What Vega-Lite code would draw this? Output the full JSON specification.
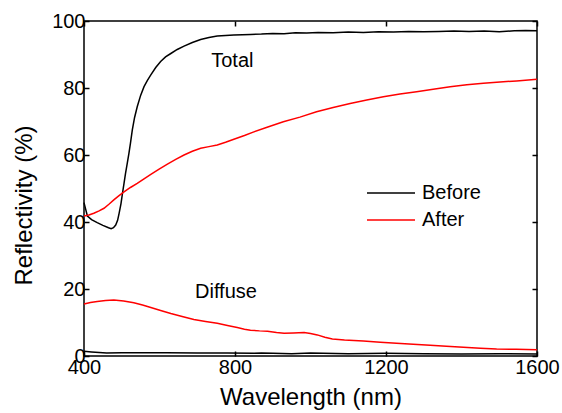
{
  "$schema": "https://vega.github.io/schema/vega-lite/v6.json",
  "width": 453,
  "height": 335,
  "autosize": {"type": "none"},
  "padding": {"left": 84, "top": 21, "right": 25, "bottom": 57},
  "config": {
    "font": "Liberation Sans",
    "view": {"stroke": "#000000", "strokeWidth": 1.5},
    "axis": {
      "grid": false,
      "domain": false,
      "tickColor": "#000000",
      "tickWidth": 1.5,
      "tickSize": -5,
      "labelFont": "Liberation Sans",
      "labelFontSize": 20,
      "labelColor": "#000000",
      "titleFont": "Liberation Sans",
      "titleFontSize": 24,
      "titleFontWeight": "normal",
      "titleColor": "#000000"
    }
  },
  "datasets": {
    "curves": [
      {"wavelength": 400, "reflectivity": 45.8, "sample": "Before", "kind": "Total"},
      {"wavelength": 404, "reflectivity": 44.0, "sample": "Before", "kind": "Total"},
      {"wavelength": 409, "reflectivity": 41.8, "sample": "Before", "kind": "Total"},
      {"wavelength": 420, "reflectivity": 40.7, "sample": "Before", "kind": "Total"},
      {"wavelength": 435, "reflectivity": 39.8, "sample": "Before", "kind": "Total"},
      {"wavelength": 450, "reflectivity": 39.0, "sample": "Before", "kind": "Total"},
      {"wavelength": 465, "reflectivity": 38.3, "sample": "Before", "kind": "Total"},
      {"wavelength": 472, "reflectivity": 38.0, "sample": "Before", "kind": "Total"},
      {"wavelength": 478, "reflectivity": 38.3, "sample": "Before", "kind": "Total"},
      {"wavelength": 484, "reflectivity": 39.1, "sample": "Before", "kind": "Total"},
      {"wavelength": 489, "reflectivity": 40.5, "sample": "Before", "kind": "Total"},
      {"wavelength": 493, "reflectivity": 42.6, "sample": "Before", "kind": "Total"},
      {"wavelength": 498, "reflectivity": 45.5, "sample": "Before", "kind": "Total"},
      {"wavelength": 502, "reflectivity": 48.6, "sample": "Before", "kind": "Total"},
      {"wavelength": 506, "reflectivity": 51.5, "sample": "Before", "kind": "Total"},
      {"wavelength": 510, "reflectivity": 54.5, "sample": "Before", "kind": "Total"},
      {"wavelength": 515, "reflectivity": 57.8, "sample": "Before", "kind": "Total"},
      {"wavelength": 519, "reflectivity": 60.5, "sample": "Before", "kind": "Total"},
      {"wavelength": 523, "reflectivity": 63.5, "sample": "Before", "kind": "Total"},
      {"wavelength": 528, "reflectivity": 67.5, "sample": "Before", "kind": "Total"},
      {"wavelength": 534, "reflectivity": 71.2, "sample": "Before", "kind": "Total"},
      {"wavelength": 541, "reflectivity": 74.4, "sample": "Before", "kind": "Total"},
      {"wavelength": 550, "reflectivity": 77.8, "sample": "Before", "kind": "Total"},
      {"wavelength": 559, "reflectivity": 80.4, "sample": "Before", "kind": "Total"},
      {"wavelength": 568, "reflectivity": 82.3, "sample": "Before", "kind": "Total"},
      {"wavelength": 577, "reflectivity": 83.9, "sample": "Before", "kind": "Total"},
      {"wavelength": 590, "reflectivity": 86.1, "sample": "Before", "kind": "Total"},
      {"wavelength": 603, "reflectivity": 87.9, "sample": "Before", "kind": "Total"},
      {"wavelength": 616, "reflectivity": 89.3, "sample": "Before", "kind": "Total"},
      {"wavelength": 630, "reflectivity": 90.3, "sample": "Before", "kind": "Total"},
      {"wavelength": 647, "reflectivity": 91.5, "sample": "Before", "kind": "Total"},
      {"wavelength": 665, "reflectivity": 92.5, "sample": "Before", "kind": "Total"},
      {"wavelength": 687, "reflectivity": 93.6, "sample": "Before", "kind": "Total"},
      {"wavelength": 709, "reflectivity": 94.5, "sample": "Before", "kind": "Total"},
      {"wavelength": 731, "reflectivity": 95.1, "sample": "Before", "kind": "Total"},
      {"wavelength": 753, "reflectivity": 95.5, "sample": "Before", "kind": "Total"},
      {"wavelength": 775, "reflectivity": 95.7, "sample": "Before", "kind": "Total"},
      {"wavelength": 797, "reflectivity": 95.8, "sample": "Before", "kind": "Total"},
      {"wavelength": 820, "reflectivity": 95.9, "sample": "Before", "kind": "Total"},
      {"wavelength": 841, "reflectivity": 96.0, "sample": "Before", "kind": "Total"},
      {"wavelength": 870, "reflectivity": 96.1, "sample": "Before", "kind": "Total"},
      {"wavelength": 900, "reflectivity": 96.3, "sample": "Before", "kind": "Total"},
      {"wavelength": 930, "reflectivity": 96.2, "sample": "Before", "kind": "Total"},
      {"wavelength": 960, "reflectivity": 96.5, "sample": "Before", "kind": "Total"},
      {"wavelength": 990, "reflectivity": 96.4, "sample": "Before", "kind": "Total"},
      {"wavelength": 1020, "reflectivity": 96.6, "sample": "Before", "kind": "Total"},
      {"wavelength": 1060, "reflectivity": 96.5, "sample": "Before", "kind": "Total"},
      {"wavelength": 1100, "reflectivity": 96.7, "sample": "Before", "kind": "Total"},
      {"wavelength": 1140, "reflectivity": 96.6, "sample": "Before", "kind": "Total"},
      {"wavelength": 1180, "reflectivity": 96.8, "sample": "Before", "kind": "Total"},
      {"wavelength": 1220, "reflectivity": 96.7, "sample": "Before", "kind": "Total"},
      {"wavelength": 1260, "reflectivity": 96.9, "sample": "Before", "kind": "Total"},
      {"wavelength": 1300, "reflectivity": 96.8, "sample": "Before", "kind": "Total"},
      {"wavelength": 1340, "reflectivity": 96.9, "sample": "Before", "kind": "Total"},
      {"wavelength": 1380, "reflectivity": 97.0, "sample": "Before", "kind": "Total"},
      {"wavelength": 1420, "reflectivity": 96.9, "sample": "Before", "kind": "Total"},
      {"wavelength": 1460, "reflectivity": 97.0, "sample": "Before", "kind": "Total"},
      {"wavelength": 1500, "reflectivity": 96.8, "sample": "Before", "kind": "Total"},
      {"wavelength": 1540, "reflectivity": 97.1, "sample": "Before", "kind": "Total"},
      {"wavelength": 1570, "reflectivity": 97.2, "sample": "Before", "kind": "Total"},
      {"wavelength": 1600, "reflectivity": 97.1, "sample": "Before", "kind": "Total"},

      {"wavelength": 400, "reflectivity": 41.8, "sample": "After", "kind": "Total"},
      {"wavelength": 413, "reflectivity": 42.1, "sample": "After", "kind": "Total"},
      {"wavelength": 426, "reflectivity": 42.6, "sample": "After", "kind": "Total"},
      {"wavelength": 440, "reflectivity": 43.3, "sample": "After", "kind": "Total"},
      {"wavelength": 453, "reflectivity": 44.1, "sample": "After", "kind": "Total"},
      {"wavelength": 466, "reflectivity": 45.3, "sample": "After", "kind": "Total"},
      {"wavelength": 479, "reflectivity": 46.6, "sample": "After", "kind": "Total"},
      {"wavelength": 492, "reflectivity": 47.8, "sample": "After", "kind": "Total"},
      {"wavelength": 506, "reflectivity": 49.0, "sample": "After", "kind": "Total"},
      {"wavelength": 523, "reflectivity": 50.3, "sample": "After", "kind": "Total"},
      {"wavelength": 541, "reflectivity": 51.5, "sample": "After", "kind": "Total"},
      {"wavelength": 559, "reflectivity": 52.9, "sample": "After", "kind": "Total"},
      {"wavelength": 577, "reflectivity": 54.2, "sample": "After", "kind": "Total"},
      {"wavelength": 599, "reflectivity": 55.8, "sample": "After", "kind": "Total"},
      {"wavelength": 621, "reflectivity": 57.3, "sample": "After", "kind": "Total"},
      {"wavelength": 643, "reflectivity": 58.7, "sample": "After", "kind": "Total"},
      {"wavelength": 665, "reflectivity": 60.0, "sample": "After", "kind": "Total"},
      {"wavelength": 687, "reflectivity": 61.1, "sample": "After", "kind": "Total"},
      {"wavelength": 709, "reflectivity": 62.0, "sample": "After", "kind": "Total"},
      {"wavelength": 731, "reflectivity": 62.5, "sample": "After", "kind": "Total"},
      {"wavelength": 753, "reflectivity": 63.0, "sample": "After", "kind": "Total"},
      {"wavelength": 775, "reflectivity": 63.8, "sample": "After", "kind": "Total"},
      {"wavelength": 797, "reflectivity": 64.7, "sample": "After", "kind": "Total"},
      {"wavelength": 825, "reflectivity": 65.8, "sample": "After", "kind": "Total"},
      {"wavelength": 850, "reflectivity": 66.9, "sample": "After", "kind": "Total"},
      {"wavelength": 885, "reflectivity": 68.3, "sample": "After", "kind": "Total"},
      {"wavelength": 928, "reflectivity": 69.9, "sample": "After", "kind": "Total"},
      {"wavelength": 972, "reflectivity": 71.3, "sample": "After", "kind": "Total"},
      {"wavelength": 1016, "reflectivity": 72.9, "sample": "After", "kind": "Total"},
      {"wavelength": 1060, "reflectivity": 74.2, "sample": "After", "kind": "Total"},
      {"wavelength": 1105, "reflectivity": 75.4, "sample": "After", "kind": "Total"},
      {"wavelength": 1149, "reflectivity": 76.4, "sample": "After", "kind": "Total"},
      {"wavelength": 1193, "reflectivity": 77.4, "sample": "After", "kind": "Total"},
      {"wavelength": 1237, "reflectivity": 78.2, "sample": "After", "kind": "Total"},
      {"wavelength": 1281, "reflectivity": 78.9, "sample": "After", "kind": "Total"},
      {"wavelength": 1325, "reflectivity": 79.6, "sample": "After", "kind": "Total"},
      {"wavelength": 1370, "reflectivity": 80.4, "sample": "After", "kind": "Total"},
      {"wavelength": 1414, "reflectivity": 81.0, "sample": "After", "kind": "Total"},
      {"wavelength": 1458, "reflectivity": 81.4, "sample": "After", "kind": "Total"},
      {"wavelength": 1502, "reflectivity": 81.8, "sample": "After", "kind": "Total"},
      {"wavelength": 1546, "reflectivity": 82.1, "sample": "After", "kind": "Total"},
      {"wavelength": 1600, "reflectivity": 82.6, "sample": "After", "kind": "Total"},

      {"wavelength": 400, "reflectivity": 15.5, "sample": "After", "kind": "Diffuse"},
      {"wavelength": 417, "reflectivity": 16.0, "sample": "After", "kind": "Diffuse"},
      {"wavelength": 435, "reflectivity": 16.3, "sample": "After", "kind": "Diffuse"},
      {"wavelength": 457, "reflectivity": 16.6, "sample": "After", "kind": "Diffuse"},
      {"wavelength": 479, "reflectivity": 16.7, "sample": "After", "kind": "Diffuse"},
      {"wavelength": 505, "reflectivity": 16.4, "sample": "After", "kind": "Diffuse"},
      {"wavelength": 532, "reflectivity": 15.9, "sample": "After", "kind": "Diffuse"},
      {"wavelength": 555, "reflectivity": 15.2, "sample": "After", "kind": "Diffuse"},
      {"wavelength": 577, "reflectivity": 14.5, "sample": "After", "kind": "Diffuse"},
      {"wavelength": 603, "reflectivity": 13.6, "sample": "After", "kind": "Diffuse"},
      {"wavelength": 630, "reflectivity": 12.7, "sample": "After", "kind": "Diffuse"},
      {"wavelength": 660, "reflectivity": 11.8, "sample": "After", "kind": "Diffuse"},
      {"wavelength": 691, "reflectivity": 10.9, "sample": "After", "kind": "Diffuse"},
      {"wavelength": 722, "reflectivity": 10.3, "sample": "After", "kind": "Diffuse"},
      {"wavelength": 753, "reflectivity": 9.75, "sample": "After", "kind": "Diffuse"},
      {"wavelength": 780, "reflectivity": 9.1, "sample": "After", "kind": "Diffuse"},
      {"wavelength": 806, "reflectivity": 8.5, "sample": "After", "kind": "Diffuse"},
      {"wavelength": 825, "reflectivity": 8.0, "sample": "After", "kind": "Diffuse"},
      {"wavelength": 841, "reflectivity": 7.7, "sample": "After", "kind": "Diffuse"},
      {"wavelength": 865, "reflectivity": 7.5, "sample": "After", "kind": "Diffuse"},
      {"wavelength": 886, "reflectivity": 7.4, "sample": "After", "kind": "Diffuse"},
      {"wavelength": 910, "reflectivity": 7.0, "sample": "After", "kind": "Diffuse"},
      {"wavelength": 930, "reflectivity": 6.8, "sample": "After", "kind": "Diffuse"},
      {"wavelength": 955, "reflectivity": 6.9, "sample": "After", "kind": "Diffuse"},
      {"wavelength": 983, "reflectivity": 7.0, "sample": "After", "kind": "Diffuse"},
      {"wavelength": 1000, "reflectivity": 6.7, "sample": "After", "kind": "Diffuse"},
      {"wavelength": 1018, "reflectivity": 6.3, "sample": "After", "kind": "Diffuse"},
      {"wavelength": 1038, "reflectivity": 5.6, "sample": "After", "kind": "Diffuse"},
      {"wavelength": 1058, "reflectivity": 5.1, "sample": "After", "kind": "Diffuse"},
      {"wavelength": 1090, "reflectivity": 4.8, "sample": "After", "kind": "Diffuse"},
      {"wavelength": 1140, "reflectivity": 4.5, "sample": "After", "kind": "Diffuse"},
      {"wavelength": 1185, "reflectivity": 4.1, "sample": "After", "kind": "Diffuse"},
      {"wavelength": 1228, "reflectivity": 3.8, "sample": "After", "kind": "Diffuse"},
      {"wavelength": 1272, "reflectivity": 3.5, "sample": "After", "kind": "Diffuse"},
      {"wavelength": 1317, "reflectivity": 3.2, "sample": "After", "kind": "Diffuse"},
      {"wavelength": 1360, "reflectivity": 2.9, "sample": "After", "kind": "Diffuse"},
      {"wavelength": 1405, "reflectivity": 2.6, "sample": "After", "kind": "Diffuse"},
      {"wavelength": 1450, "reflectivity": 2.3, "sample": "After", "kind": "Diffuse"},
      {"wavelength": 1493, "reflectivity": 2.1, "sample": "After", "kind": "Diffuse"},
      {"wavelength": 1545, "reflectivity": 2.0, "sample": "After", "kind": "Diffuse"},
      {"wavelength": 1600, "reflectivity": 1.9, "sample": "After", "kind": "Diffuse"},

      {"wavelength": 400, "reflectivity": 1.4, "sample": "Before", "kind": "Diffuse"},
      {"wavelength": 420, "reflectivity": 1.2, "sample": "Before", "kind": "Diffuse"},
      {"wavelength": 460, "reflectivity": 0.9, "sample": "Before", "kind": "Diffuse"},
      {"wavelength": 500, "reflectivity": 1.0, "sample": "Before", "kind": "Diffuse"},
      {"wavelength": 560, "reflectivity": 1.0, "sample": "Before", "kind": "Diffuse"},
      {"wavelength": 620, "reflectivity": 1.0, "sample": "Before", "kind": "Diffuse"},
      {"wavelength": 700, "reflectivity": 0.9, "sample": "Before", "kind": "Diffuse"},
      {"wavelength": 780, "reflectivity": 0.9, "sample": "Before", "kind": "Diffuse"},
      {"wavelength": 850, "reflectivity": 0.8, "sample": "Before", "kind": "Diffuse"},
      {"wavelength": 870, "reflectivity": 0.9, "sample": "Before", "kind": "Diffuse"},
      {"wavelength": 900, "reflectivity": 0.8, "sample": "Before", "kind": "Diffuse"},
      {"wavelength": 950, "reflectivity": 0.7, "sample": "Before", "kind": "Diffuse"},
      {"wavelength": 1000, "reflectivity": 0.9, "sample": "Before", "kind": "Diffuse"},
      {"wavelength": 1100, "reflectivity": 0.7, "sample": "Before", "kind": "Diffuse"},
      {"wavelength": 1200, "reflectivity": 0.8, "sample": "Before", "kind": "Diffuse"},
      {"wavelength": 1300, "reflectivity": 0.7, "sample": "Before", "kind": "Diffuse"},
      {"wavelength": 1400, "reflectivity": 0.6, "sample": "Before", "kind": "Diffuse"},
      {"wavelength": 1500, "reflectivity": 0.7, "sample": "Before", "kind": "Diffuse"},
      {"wavelength": 1600, "reflectivity": 0.6, "sample": "Before", "kind": "Diffuse"}
    ],
    "labels": [
      {"label": "Total", "wavelength": 793, "reflectivity": 88.1},
      {"label": "Diffuse", "wavelength": 776, "reflectivity": 19.0}
    ]
  },
  "layer": [
    {
      "data": {"name": "curves"},
      "mark": {"type": "line", "strokeWidth": 1.5},
      "encoding": {
        "x": {
          "field": "wavelength", "type": "quantitative",
          "scale": {"domain": [400, 1600], "nice": false, "zero": false},
          "axis": {"orient": "bottom", "values": [400, 800, 1200, 1600], "format": "d", "title": "Wavelength (nm)", "labelPadding": 6, "titlePadding": 8, "labelFlush": false}
        },
        "y": {
          "field": "reflectivity", "type": "quantitative",
          "scale": {"domain": [0, 100], "nice": false},
          "axis": {"orient": "left", "values": [0, 20, 40, 60, 80, 100], "format": "d", "title": "Reflectivity (%)", "labelPadding": 4, "titlePadding": 15, "titleY": 184}
        },
        "color": {
          "field": "sample", "type": "nominal",
          "scale": {"domain": ["Before", "After"], "range": ["#000000", "#ff0000"]},
          "legend": {
            "title": null, "orient": "none", "legendX": 282, "legendY": 162,
            "symbolType": "stroke", "symbolSize": 2304, "symbolStrokeWidth": 1.5,
            "labelFont": "Liberation Sans", "labelFontSize": 20, "labelColor": "#000000",
            "labelOffset": 6, "rowPadding": 7, "padding": 0, "clipHeight": 20
          }
        },
        "detail": {"field": "kind", "type": "nominal"}
      }
    },
    {
      "data": {"name": "labels"},
      "mark": {"type": "text", "font": "Liberation Sans", "fontSize": 20, "color": "#000000", "baseline": "middle", "align": "center"},
      "encoding": {
        "x": {"field": "wavelength", "type": "quantitative", "axis": null},
        "y": {"field": "reflectivity", "type": "quantitative", "axis": null},
        "text": {"field": "label", "type": "nominal"}
      }
    },
    {
      "data": {"name": "curves"},
      "mark": {"type": "line", "opacity": 0},
      "encoding": {
        "x": {"field": "wavelength", "type": "quantitative", "axis": {"orient": "top", "values": [400, 800, 1200, 1600], "labels": false, "title": null}},
        "y": {"field": "reflectivity", "type": "quantitative", "axis": {"orient": "right", "values": [0, 20, 40, 60, 80, 100], "labels": false, "title": null}},
        "detail": {"field": "kind", "type": "nominal"},
        "color": {"field": "sample", "type": "nominal", "legend": null}
      }
    }
  ],
  "resolve": {"axis": {"x": "independent", "y": "independent"}}
}
